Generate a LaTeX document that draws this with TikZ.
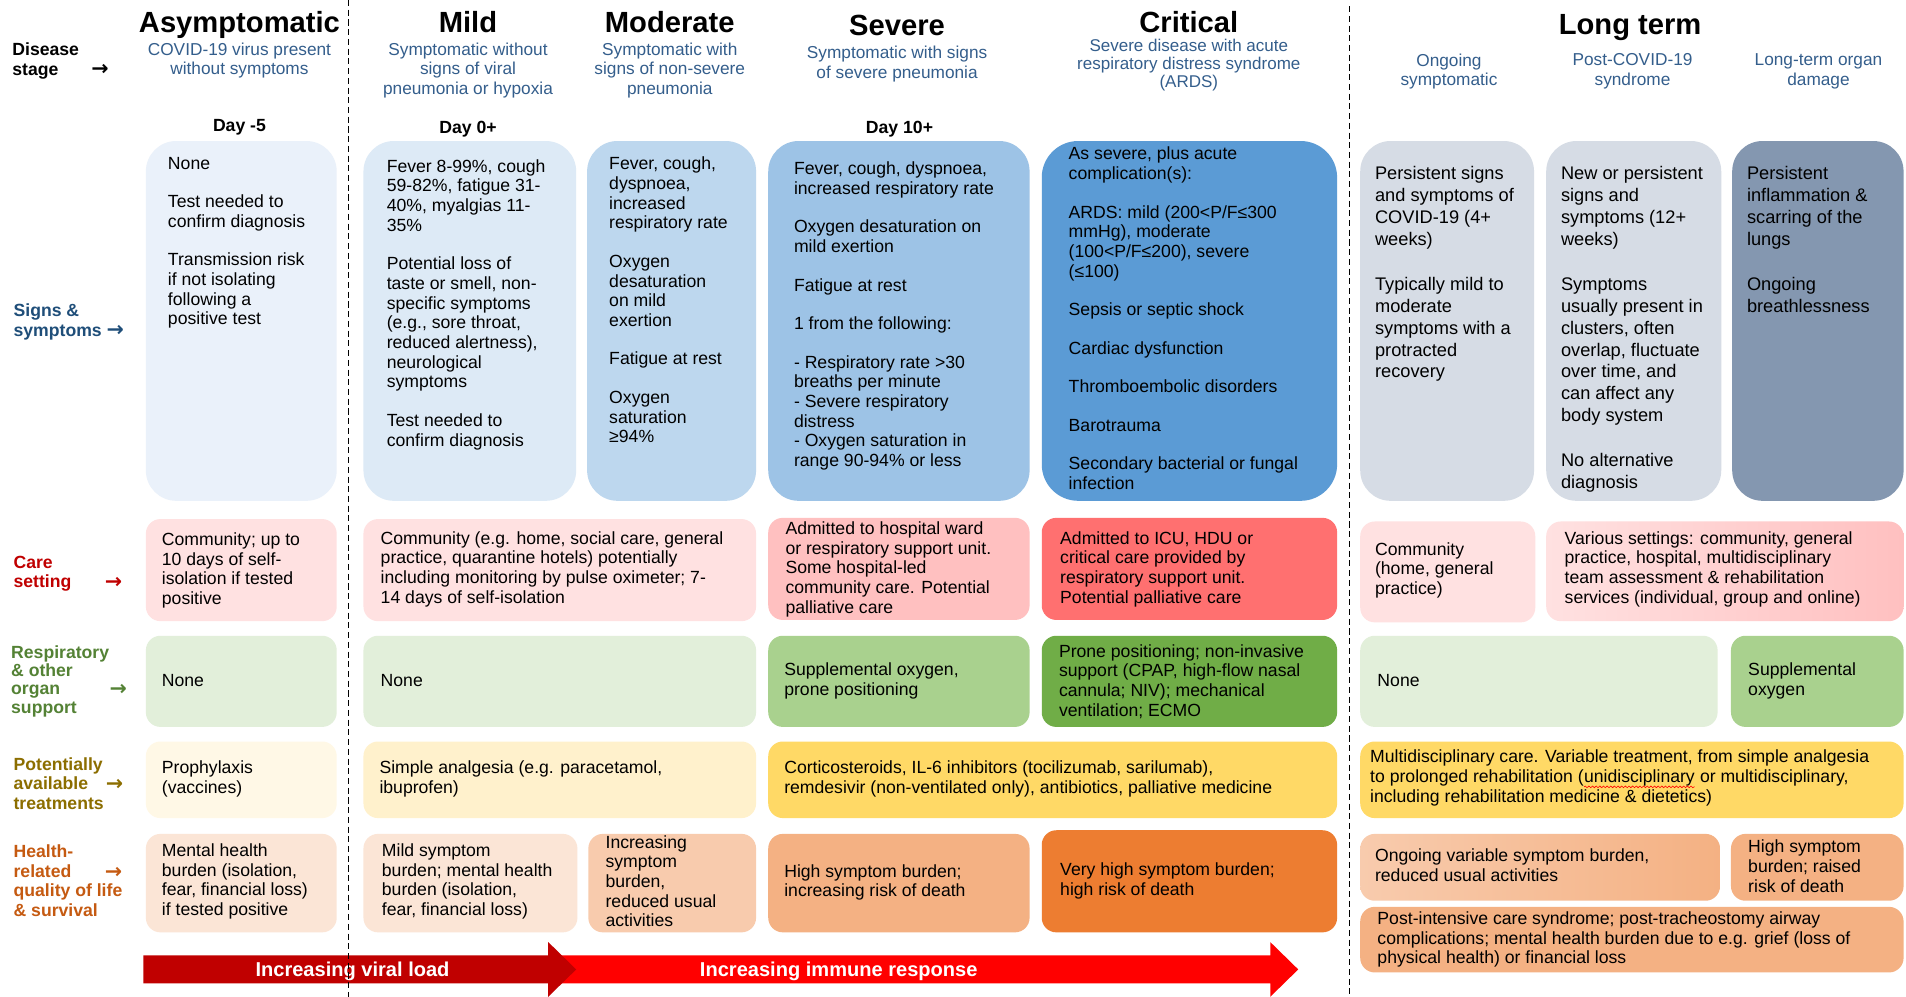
\documentclass[tikz,border=0pt]{standalone}
\usepackage{fontspec}
\setmainfont{Liberation Sans}
\newfontfamily\arrowfam{DejaVu Sans}
\usetikzlibrary{decorations.pathmorphing}
\definecolor{subblue}{RGB}{52,94,140}
\definecolor{lblblue}{RGB}{31,78,121}
\definecolor{lblred}{RGB}{192,0,0}
\definecolor{lblgreen}{RGB}{84,130,53}
\definecolor{lblolive}{RGB}{140,110,0}
\definecolor{lblorange}{RGB}{197,90,17}
\definecolor{s1}{RGB}{234,241,250}
\definecolor{s2}{RGB}{221,234,246}
\definecolor{s3}{RGB}{189,215,238}
\definecolor{s4}{RGB}{157,195,230}
\definecolor{s5}{RGB}{91,155,213}
\definecolor{s6}{RGB}{214,220,229}
\definecolor{s7}{RGB}{132,151,176}
\definecolor{c1}{RGB}{255,225,225}
\definecolor{c2}{RGB}{255,192,192}
\definecolor{c3}{RGB}{255,112,112}
\definecolor{r1}{RGB}{226,239,218}
\definecolor{r2}{RGB}{169,209,142}
\definecolor{r3}{RGB}{112,173,71}
\definecolor{t1}{RGB}{255,248,230}
\definecolor{t2}{RGB}{255,241,204}
\definecolor{t3}{RGB}{255,217,102}
\definecolor{q1}{RGB}{251,229,214}
\definecolor{q2}{RGB}{248,203,173}
\definecolor{q3}{RGB}{244,177,131}
\definecolor{q4}{RGB}{237,125,49}
\definecolor{arrdark}{RGB}{192,0,0}
\definecolor{arrred}{RGB}{255,0,0}
\newcommand\mybody{\fontsize{14.5}{16.2}\selectfont}
\newcommand\mylt{\fontsize{15}{18}\selectfont}
\newcommand\mysub{\fontsize{14.2}{16}\selectfont}
\newcommand\mycrsub{\fontsize{14}{14.6}\selectfont}
\newcommand\mylbl{\bfseries\fontsize{14.5}{16}\selectfont}
\newcommand\mylblr{\bfseries\fontsize{14.5}{15}\selectfont}
\newcommand\mytitle{\bfseries\fontsize{24}{28}\selectfont}
\newcommand\myarrf{\bfseries\fontsize{16.5}{18}\selectfont}
\newcommand\myarrow{{\arrowfam\bfseries\fontsize{17}{16}\selectfont →}}
\newcommand\pg{15.5pt}
\newcommand\lpg{19pt}
\newcommand\bx[6]{\node[#2,anchor=north west,minimum width={#5-#3},minimum height={#6-#4}] (#1) at (#3,#4) {};}
\newcommand\tx[4]{\node[txt] (#1) at (#2,#3) {#4};}
\newcommand\wavyword[1]{\tikz[baseline=(ww.base)]{\node[inner sep=0pt,outer sep=0pt] (ww) {#1};\draw[red,line width=0.5pt,decorate,decoration={snake,amplitude=0.7pt,segment length=3pt}] ([yshift=-3.5pt]ww.base west) -- ([yshift=-3.5pt]ww.base east);}}
\begin{document}
\begin{tikzpicture}[x=1pt,y=-1pt,
 box/.style={rounded corners=12pt,inner sep=0pt,outer sep=0pt,draw=none},
 sbox/.style={box,rounded corners=25pt},
 txtbase/.style={anchor=north west,inner sep=0pt,align=left,execute at begin node=\strut},
 txt/.style={txtbase,font=\mybody,yshift=6.1pt},
 ltxt/.style={txtbase,font=\mylt,yshift=7.2pt},
 subbase/.style={anchor=north,inner sep=0pt,align=center,text=subblue,execute at begin node=\strut},
 subt/.style={subbase,font=\mysub,yshift=6pt},
 crsubt/.style={subbase,font=\mycrsub,yshift=5.2pt},
 ttl/.style={anchor=base,inner sep=0pt,font=\mytitle},
 lbl/.style={anchor=north west,inner sep=0pt,align=left,font=\mylbl,yshift=6pt,execute at begin node=\strut},
 day/.style={anchor=base,inner sep=0pt,font=\mylbl},
 arr/.style={anchor=base west,inner sep=0pt},
 arrtxt/.style={anchor=base,inner sep=0pt,font=\myarrf,text=white},
 vsep/.style={line width=1pt,dash pattern=on 5pt off 3pt}]
\fill[white] (0,0) rectangle (1568,820);
\useasboundingbox (0,0) rectangle (1568,820);
% ---------- headers ----------
\node[ttl] (hA) at (197,26.6) {Asymptomatic};
\node[ttl] (hMi) at (385,26.6) {Mild};
\node[ttl] (hMo) at (551,26.6) {Moderate};
\node[ttl] (hS) at (738,29) {Severe};
\node[ttl] (hC) at (978,27) {Critical};
\node[ttl] (hL) at (1341,28) {Long term};
\node[subt] (stA) at (197,41) {COVID-19 virus present\\without symptoms};
\node[subt] (stMi) at (385,41) {Symptomatic without\\signs of viral\\pneumonia or hypoxia};
\node[subt] (stMo) at (551,41) {Symptomatic with\\signs of non-severe\\pneumonia};
\node[subt] (stS) at (738,44) {Symptomatic with signs\\of severe pneumonia};
\node[crsubt] (stC) at (978,37.5) {Severe disease with acute\\respiratory distress syndrome\\(ARDS)};
\node[subt] (stO) at (1192,50) {Ongoing\\symptomatic};
\node[subt] (stP) at (1343,50) {Post-COVID-19\\syndrome};
\node[subt] (stL) at (1496,50) {Long-term organ\\damage};
\node[day] (dA) at (197,108) {Day -5};
\node[day] (dMi) at (385,110) {Day 0+};
\node[day] (dS) at (740,110) {Day 10+};
% ---------- row labels ----------
\node[lbl] (lD) at (10,41) {Disease\\stage};
\node[arr] (aD) at (75,62.5) {\myarrow};
\node[lbl,text=lblblue] (lS) at (11,256) {Signs \&\\symptoms \myarrow};
\node[lbl,text=lblred] (lC) at (11,463) {Care\\setting};
\node[arr,text=lblred] (aC) at (86,484.5) {\myarrow};
\node[lbl,text=lblgreen,font=\mylblr] (lR) at (9,537) {Respiratory\\\& other\\organ\\support};
\node[arr,text=lblgreen] (aR) at (90,572.5) {\myarrow};
\node[lbl,text=lblolive] (lT) at (11,629) {Potentially\\available\\treatments};
\node[arr,text=lblolive] (aT) at (87,650.5) {\myarrow};
\node[lbl,text=lblorange] (lH) at (11,701) {Health-\\related\\quality of life\\\& survival};
\node[arr,text=lblorange] (aH) at (86,722.5) {\myarrow};
% ---------- signs & symptoms ----------
\bx{sA}{sbox,fill=s1}{120}{116}{277}{412}
\bx{sMi}{sbox,fill=s2}{299}{116}{474}{412}
\bx{sMo}{sbox,fill=s3}{483}{116}{622}{412}
\bx{sSe}{sbox,fill=s4}{632}{116}{847}{412}
\bx{sCr}{sbox,fill=s5,rounded corners=30pt}{857}{116}{1100}{412}
\bx{sOn}{sbox,fill=s6}{1119}{116}{1262}{412}
\bx{sPo}{sbox,fill=s6}{1272}{116}{1416}{412}
\bx{sLt}{sbox,fill=s7}{1425}{116}{1566}{412}
\tx{tsA}{138}{135}{None\\[\pg]Test needed to\\confirm diagnosis\\[\pg]Transmission risk\\if not isolating\\following a\\positive test}
\tx{tsMi}{318}{137}{Fever 8-99\%, cough\\59-82\%, fatigue 31-\\40\%, myalgias 11-\\35\%\\[\pg]Potential loss of\\taste or smell, non-\\specific symptoms\\(e.g., sore throat,\\reduced alertness),\\neurological\\symptoms\\[\pg]Test needed to\\confirm diagnosis}
\tx{tsMo}{501}{135}{Fever, cough,\\dyspnoea,\\increased\\respiratory rate\\[\pg]Oxygen\\desaturation\\on mild\\exertion\\[\pg]Fatigue at rest\\[\pg]Oxygen\\saturation\\≥94\%}
\tx{tsSe}{653}{139}{Fever, cough, dyspnoea,\\increased respiratory rate\\[\pg]Oxygen desaturation on\\mild exertion\\[\pg]Fatigue at rest\\[\pg]1 from the following:\\[\pg]- Respiratory rate >30\\breaths per minute\\- Severe respiratory\\distress\\- Oxygen saturation in\\range 90-94\% or less}
\tx{tsCr}{879}{127}{As severe, plus acute\\complication(s):\\[\pg]ARDS: mild (200<P/F≤300\\mmHg), moderate\\(100<P/F≤200), severe\\(≤100)\\[\pg]Sepsis or septic shock\\[\pg]Cardiac dysfunction\\[\pg]Thromboembolic disorders\\[\pg]Barotrauma\\[\pg]Secondary bacterial or fungal\\infection}
\node[ltxt] (tsOn) at (1131,144) {Persistent signs\\and symptoms of\\COVID-19 (4+\\weeks)\\[\lpg]Typically mild to\\moderate\\symptoms with a\\protracted\\recovery};
\node[ltxt] (tsPo) at (1284,144) {New or persistent\\signs and\\symptoms (12+\\weeks)\\[\lpg]Symptoms\\usually present in\\clusters, often\\overlap, fluctuate\\over time, and\\can affect any\\body system\\[\lpg]No alternative\\diagnosis};
\node[ltxt] (tsLt) at (1437,144) {Persistent\\inflammation \&\\scarring of the\\lungs\\[\lpg]Ongoing\\breathlessness};
% ---------- care setting ----------
\bx{cA}{box,fill=c1}{120}{427}{277}{511}
\bx{cM}{box,fill=c1}{299}{427}{622}{511}
\bx{cS}{box,fill=c2}{632}{426}{847}{510}
\bx{cC}{box,fill=c3}{857}{426}{1100}{510}
\bx{cO}{box,fill=c1}{1119}{429}{1263}{512}
\bx{cP}{box,left color=c1,right color=c2}{1272}{429}{1566}{511}
\tx{tcA}{133}{444}{Community; up to\\10 days of self-\\isolation if tested\\positive}
\tx{tcM}{313}{443}{Community (e.g. home, social care, general\\practice, quarantine hotels) potentially\\including monitoring by pulse oximeter; 7-\\14 days of self-isolation}
\tx{tcS}{646}{435}{Admitted to hospital ward\\or respiratory support unit.\\Some hospital-led\\community care. Potential\\palliative care}
\tx{tcC}{872}{443}{Admitted to ICU, HDU or\\critical care provided by\\respiratory support unit.\\Potential palliative care}
\tx{tcO}{1131}{452}{Community\\(home, general\\practice)}
\tx{tcP}{1287}{443}{Various settings: community, general\\practice, hospital, multidisciplinary\\team assessment \& rehabilitation\\services (individual, group and online)}
% ---------- respiratory support ----------
\bx{rA}{box,fill=r1}{120}{523}{277}{598}
\bx{rM}{box,fill=r1}{299}{523}{622}{598}
\bx{rS}{box,fill=r2}{632}{523}{847}{598}
\bx{rC}{box,fill=r3}{857}{523}{1100}{598}
\bx{rO}{box,fill=r1}{1119}{523}{1413}{598}
\bx{rL}{box,fill=r2}{1424}{523}{1566}{598}
\tx{trA}{133}{559}{None}
\tx{trM}{313}{559}{None}
\tx{trS}{645}{551}{Supplemental oxygen,\\prone positioning}
\tx{trC}{871}{536}{Prone positioning; non-invasive\\support (CPAP, high-flow nasal\\cannula; NIV); mechanical\\ventilation; ECMO}
\tx{trO}{1133}{559}{None}
\tx{trL}{1438}{551}{Supplemental\\oxygen}
% ---------- treatments ----------
\bx{bA}{box,fill=t1}{120}{610}{277}{673}
\bx{bM}{box,fill=t2}{299}{610}{622}{673}
\bx{bS}{box,fill=t3}{632}{610}{1100}{673}
\bx{bL}{box,fill=t3}{1119}{610}{1566}{673}
\tx{tbA}{133}{632}{Prophylaxis\\(vaccines)}
\tx{tbM}{312}{632}{Simple analgesia (e.g. paracetamol,\\ibuprofen)}
\tx{tbS}{645}{632}{Corticosteroids, IL-6 inhibitors (tocilizumab, sarilumab),\\remdesivir (non-ventilated only), antibiotics, palliative medicine}
\tx{tbL}{1127}{623}{Multidisciplinary care. Variable treatment, from simple analgesia\\to prolonged rehabilitation (\wavyword{unidisciplinary} or multidisciplinary,\\including rehabilitation medicine \& dietetics)}
% ---------- quality of life ----------
\bx{qA}{box,fill=q1}{120}{686}{277}{767}
\bx{qMi}{box,fill=q1}{299}{686}{475}{767}
\bx{qMo}{box,fill=q2}{484}{686}{622}{767}
\bx{qS}{box,fill=q3}{632}{686}{847}{767}
\bx{qC}{box,fill=q4}{857}{683}{1100}{767}
\bx{qO}{box,left color=q2,right color=q3}{1119}{686}{1415}{741}
\bx{qH}{box,fill=q3}{1424}{686}{1566}{741}
\bx{qP}{box,fill=q3}{1119}{746}{1566}{800}
\tx{tqA}{133}{700}{Mental health\\burden (isolation,\\fear, financial loss)\\if tested positive}
\tx{tqMi}{314}{700}{Mild symptom\\burden; mental health\\burden (isolation,\\fear, financial loss)}
\tx{tqMo}{498}{693}{Increasing\\symptom\\burden,\\reduced usual\\activities}
\tx{tqS}{645}{717}{High symptom burden;\\increasing risk of death}
\tx{tqC}{872}{716}{Very high symptom burden;\\high risk of death}
\tx{tqO}{1131}{704}{Ongoing variable symptom burden,\\reduced usual activities}
\tx{tqH}{1438}{697}{High symptom\\burden; raised\\risk of death}
\tx{tqP}{1133}{756}{Post-intensive care syndrome; post-tracheostomy airway\\complications; mental health burden due to e.g. grief (loss of\\physical health) or financial loss}
% ---------- bottom arrows ----------
\fill[arrred] (455,786) -- (1045,786) -- (1045,775) -- (1068,797.5) -- (1045,820) -- (1045,809) -- (455,809) -- cycle;
\fill[arrdark] (118,786) -- (451,786) -- (451,775) -- (474,797.5) -- (451,820) -- (451,809) -- (118,809) -- cycle;
\node[arrtxt] (avl) at (290,803) {Increasing viral load};
\node[arrtxt] (air) at (690,803) {Increasing immune response};
% ---------- dividers ----------
\draw[vsep] (287,0) -- (287,820);
\draw[vsep] (1110,5) -- (1110,820);
\end{tikzpicture}
\end{document}
